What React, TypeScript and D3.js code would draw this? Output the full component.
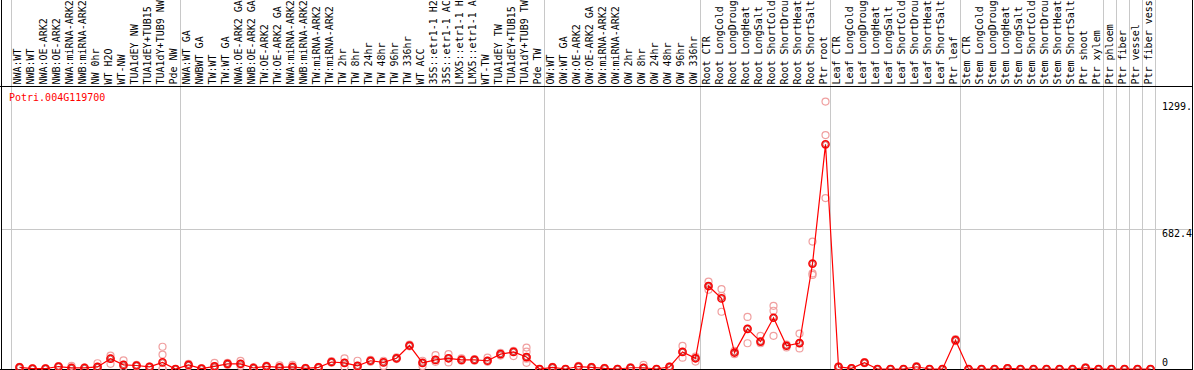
import React from "react";
import * as d3 from "d3";

const title = "Potri.004G119700";

const labels: string[] = [
  "NWA:WT", "NWB:WT", "NWA:OE-ARK2", "NWB:OE-ARK2", "NWA:miRNA-ARK2", "NWB:miRNA-ARK2",
  "NW 0hr", "WT H2O", "WT-NW", "TUA1dEY NW", "TUA1dEY+TUB15", "TUA1dY+TUB9 NW", "Pde NW",
  "NWA:WT GA", "NWBWT GA", "TW:WT", "TW:WT GA", "NWA:OE-ARK2 GA", "NWB:OE-ARK2 GA",
  "TW:OE-ARK2", "TW:OE-ARK2 GA", "NWA:miRNA-ARK2", "NWB:miRNA-ARK2", "TW:miRNA-ARK2", "TW:miRNA-ARK2",
  "TW 2hr", "TW 8hr", "TW 24hr", "TW 48hr", "TW 96hr", "TW 336hr", "WT ACC",
  "35S::etr1-1 H2", "35S::etr1-1 AC", "LMX5::etr1-1 H", "LMX5::etr1-1 A", "WT-TW",
  "TUA1dEY TW", "TUA1dEY+TUB15", "TUA1dY+TUB9 TW", "Pde TW",
  "OW:WT", "OW:WT GA", "OW:OE-ARK2", "OW:OE-ARK2 GA", "OW:miRNA-ARK2", "OW:miRNA-ARK2",
  "OW 2hr", "OW 8hr", "OW 24hr", "OW 48hr", "OW 96hr", "OW 336hr",
  "Root CTR", "Root LongCold", "Root LongDroug", "Root LongHeat", "Root LongSalt",
  "Root ShortCold", "Root ShortDrou", "Root ShortHeat", "Root ShortSalt", "Ptr root",
  "Leaf CTR", "Leaf LongCold", "Leaf LongDroug", "Leaf LongHeat", "Leaf LongSalt",
  "Leaf ShortCold", "Leaf ShortDrou", "Leaf ShortHeat", "Leaf ShortSalt", "Ptr leaf",
  "Stem CTR", "Stem LongCold", "Stem LongDroug", "Stem LongHeat", "Stem LongSalt",
  "Stem ShortCold", "Stem ShortDrou", "Stem ShortHeat", "Stem ShortSalt", "Ptr shoot", "Ptr xylem",
  "Ptr phloem", "Ptr fiber", "Ptr vessel", "Ptr fiber vess",
];

const groupSizes: number[] = [13, 28, 12, 10, 10, 11, 1, 1, 1, 1];

const means: number[] = [
  8, 2, 2, 12, 5, 5, 10, 50, 20, 17, 10, 32, 0,
  20, 2, 13, 25, 25, 5, 13, 8, 10, 3, 8, 34, 30, 15, 40, 32, 52, 114, 30, 44, 52, 44, 44, 40, 72, 83, 58, 0,
  8, 0, 12, 8, 3, 0, 6, 6, 0, 10, 83, 52,
  403, 343, 80, 195, 133, 249, 113, 126, 512,
  1091, 10, 3, 31, 0, 0, 0, 11, 0, 0, 140,
  0, 0, 0, 3, 0, 0, 0, 0, 0, 6, 0,
  0, 0, 0, 0,
];

const replicates: number[][] = [
  [5, 8, 11], [1, 2, 3], [1, 2, 3], [10, 12, 14], [2, 5, 15], [3, 5, 7], [5, 10, 28],
  [25, 50, 65], [10, 20, 42], [14, 17, 20], [8, 10, 12], [0, 0, 70, 108], [0, 0, 0],
  [15, 20, 25], [1, 2, 3], [5, 13, 30], [20, 25, 30], [15, 25, 39], [2, 5, 8], [10, 13, 16],
  [5, 8, 18], [5, 10, 20], [2, 3, 5], [5, 8, 10], [30, 34, 38], [10, 30, 52], [5, 15, 40],
  [35, 40, 45], [15, 32, 40], [48, 52, 56], [110, 114, 118], [15, 30, 40], [35, 44, 67],
  [32, 52, 72], [40, 44, 52], [40, 44, 48], [35, 40, 55], [65, 72, 78], [63, 83, 88],
  [30, 50, 58, 84, 104], [0, 0, 0],
  [5, 8, 10], [0, 0, 0], [10, 12, 15], [5, 8, 10], [2, 3, 5], [0, 0, 1], [4, 6, 8],
  [4, 6, 20], [0, 0, 0], [8, 10, 12], [55, 83, 112], [36, 52, 60],
  [385, 403, 424], [278, 355, 388], [72, 80, 88], [125, 195, 253], [125, 133, 161],
  [161, 283, 307], [105, 113, 118], [100, 126, 172], [457, 464, 619],
  [830, 1136, 1299], [8, 10, 12], [2, 3, 4], [28, 31, 34], [0, 0, 0], [0, 0, 0],
  [0, 0, 0], [8, 11, 14], [0, 0, 0], [0, 0, 0], [135, 140, 145],
  [0, 0, 0], [0, 0, 0], [0, 0, 0], [2, 3, 4], [0, 0, 0], [0, 0, 0], [0, 0, 0],
  [0, 0, 0], [0, 0, 0], [5, 6, 8], [0, 0, 0],
  [0, 0, 0], [0, 0, 0], [0, 0, 0], [0, 0, 0],
];

const tickValues: number[] = [0, 682.4, 1299.6];
const tickLabels: string[] = ["0", "682.4", "1299."];

const W = 1194;
const H = 370;
const FONT = "'DejaVu Sans Mono', monospace";

export default function App() {
  const idx = labels.map((_, i) => i);
  const x = d3.scaleBand<number>().domain(idx).range([11, 11 + 13 * labels.length]).padding(0);
  const bw = x.bandwidth();
  const cx = (i: number) => (x(i) as number) + bw * 0.655;
  const y = d3.scaleLinear().domain([0, 682.4]).range([369, 228.5]);

  const line = d3
    .line<number>()
    .x((_, i) => cx(i))
    .y((d) => y(d));

  const boundaries: number[] = [0];
  groupSizes.reduce((acc, s) => {
    boundaries.push(acc + s);
    return acc + s;
  }, 0);

  const rightX = 1192;
  const sepY = 86;

  return (
    <svg
      width={W}
      height={H}
      style={{ position: "absolute", left: 0, top: 0, background: "#fff" }}
      fontFamily={FONT}
    >
      <rect x={0} y={0} width={W} height={H} fill="#fff" />
      {/* grid line */}
      <line x1={1} x2={rightX} y1={Math.round(y(682.4)) + 0.5} y2={Math.round(y(682.4)) + 0.5} stroke="#c8c8c8" />
      {/* group dividers */}
      {boundaries.map((b, k) => {
        const xx = 11 + 13 * b + 0.5;
        return <line key={k} x1={xx} x2={xx} y1={0} y2={H} stroke="#c8c8c8" />;
      })}
      {/* labels */}
      {labels.map((l, i) => (
        <text
          key={i}
          transform={`translate(${(x(i) as number) + 9.5},84.5) rotate(-90)`}
          fontSize={10}
          fill="#000"
        >
          {l}
        </text>
      ))}
      {/* frame */}
      <line x1={0} x2={rightX} y1={sepY + 0.5} y2={sepY + 0.5} stroke="#000" />
      <line x1={1.5} x2={1.5} y1={0} y2={H} stroke="#000" />
      <line x1={rightX + 0.5} x2={rightX + 0.5} y1={0} y2={H} stroke="#000" />
      <line x1={0} x2={rightX} y1={369.5} y2={369.5} stroke="#000" />
      {/* title */}
      <text x={9} y={101} fontSize={10} fill="#ff0000">
        {title}
      </text>
      {/* right axis labels */}
      {tickValues.map((v, k) => (
        <text
          key={k}
          x={1162}
          y={k === 0 ? y(v) - 3 : y(v) + 8.5}
          fontSize={10}
          fill="#000"
        >
          {tickLabels[k]}
        </text>
      ))}
      {/* replicates */}
      {replicates.map((reps, i) =>
        reps.map((r, j) => (
          <circle key={`${i}-${j}`} cx={cx(i)} cy={y(r)} r={3.5} fill="none" stroke="#f0a0a0" strokeWidth={1.2} />
        ))
      )}
      {/* mean line */}
      <path d={line(means) || ""} fill="none" stroke="#ff0000" strokeWidth={1.2} />
      {means.map((m, i) => (
        <g key={i}>
          <circle cx={cx(i)} cy={y(m)} r={3.6} fill="none" stroke="#ff0000" strokeWidth={1.5} />
          <circle cx={cx(i)} cy={y(m)} r={2.6} fill="none" stroke="#a00000" strokeWidth={0.6} />
        </g>
      ))}
    </svg>
  );
}
